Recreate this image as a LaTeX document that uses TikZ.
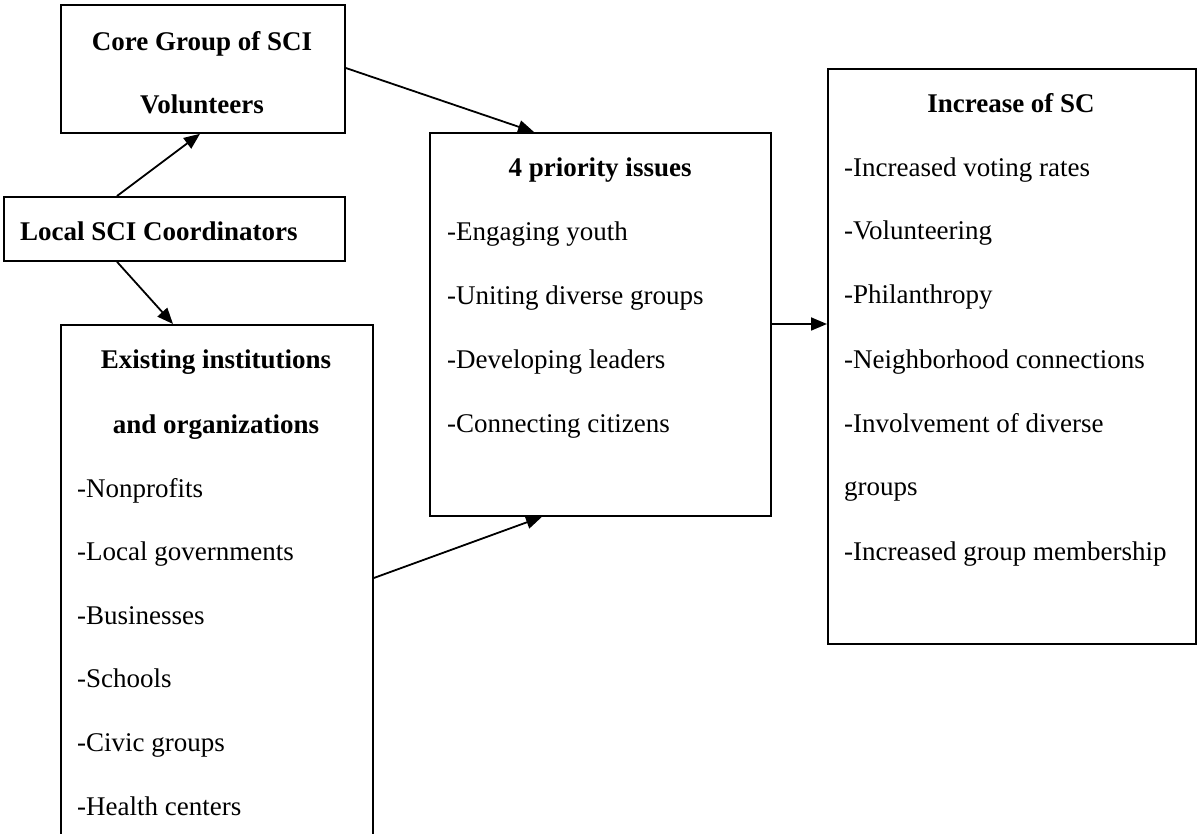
\documentclass[tikz,border=0pt]{standalone}
\usepackage{fontspec}
\setmainfont{Liberation Serif}
\usetikzlibrary{arrows.meta,calc}

\begin{document}
\begin{tikzpicture}[x=1pt,y=-1pt,
  box/.style={draw=black,line width=1.8pt,rectangle,inner sep=0pt,anchor=north west},
  txt/.style={inner sep=0pt,font=\fontsize{27}{32}\selectfont},
  head/.style={txt,font=\fontsize{27}{32}\selectfont\bfseries,anchor=base},
  item/.style={txt,anchor=base west},
  link/.style={line width=1.8pt,-{Triangle[length=16pt,width=13pt]}}]

\path[use as bounding box,clip] (0,0) rectangle (1197,834);
\fill[white] (0,0) rectangle (1197,834);

% boxes
\node[box,minimum width=284pt,minimum height=128pt] (core) at (60,4) {};
\node[box,minimum width=341pt,minimum height=64pt] (local) at (3,196) {};
\node[box,minimum width=312pt,minimum height=540pt] (exist) at (60,324) {};
\node[box,minimum width=341pt,minimum height=383pt] (prio) at (429,132) {};
\node[box,minimum width=368pt,minimum height=575pt] (incr) at (827,68) {};

% core group
\node[head] (coreA) at (202,51) {Core Group of SCI};
\node[head] (coreB) at (202,114) {Volunteers};

% coordinators
\node[txt,font=\fontsize{27}{32}\selectfont\bfseries,anchor=base west] (localA) at (20,241) {Local SCI Coordinators};

% institutions
\node[head] (exA) at (216,369) {Existing institutions};
\node[head] (exB) at (216,433) {and organizations};
\node[item] (ex1) at (77,497) {-Nonprofits};
\node[item] (ex2) at (77,560) {-Local governments};
\node[item] (ex3) at (77,624) {-Businesses};
\node[item] (ex4) at (77,687) {-Schools};
\node[item] (ex5) at (77,751) {-Civic groups};
\node[item] (ex6) at (77,815) {-Health centers};

% priority issues
\node[head] (prA) at (600,177) {4 priority issues};
\node[item] (pr1) at (447,241) {-Engaging youth};
\node[item] (pr2) at (447,305) {-Uniting diverse groups};
\node[item] (pr3) at (447,368) {-Developing leaders};
\node[item] (pr4) at (447,432) {-Connecting citizens};

% outcomes
\node[head] (inA) at (1011,113) {Increase of SC};
\node[item] (in1) at (844,177) {-Increased voting rates};
\node[item] (in2) at (844,240) {-Volunteering};
\node[item] (in3) at (844,304) {-Philanthropy};
\node[item] (in4) at (844,368) {-Neighborhood connections};
\node[item] (in5) at (844,432) {-Involvement of diverse};
\node[item] (in6) at (844,495) {groups};
\node[item] (in7) at (844,560) {-Increased group membership};

% connectors
\draw[link] ($(local.north west)+(114,0)$) -- ($(core.south west)+(140,0)$);
\draw[link] ($(local.south west)+(114,0)$) -- ($(exist.north west)+(113,0)$);
\draw[link] ($(core.north east)+(0,64)$) -- ($(prio.north west)+(105,0)$);
\draw[link] ($(exist.north east)+(0,254)$) -- ($(prio.south west)+(113,0)$);
\draw[link] ($(prio.north east)+(0,192)$) -- ($(incr.north west)+(0,256)$);
\end{tikzpicture}
\end{document}
